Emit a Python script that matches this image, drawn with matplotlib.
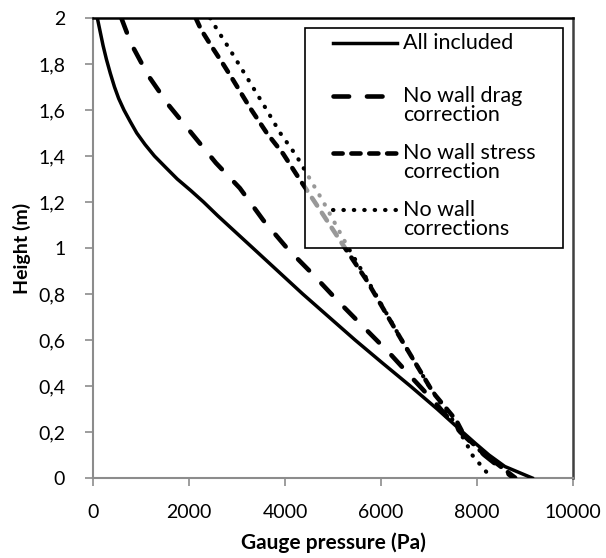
import numpy as np
import matplotlib
matplotlib.use("Agg")
import matplotlib.pyplot as plt
from matplotlib.patches import Rectangle
from matplotlib.lines import Line2D

plt.rcParams['font.family'] = ['Lato', 'DejaVu Sans']

# pressure profiles, height (m) vs gauge pressure (Pa)
h_all = [2.0, 1.94, 1.88, 1.82, 1.76, 1.7, 1.65, 1.6, 1.55, 1.5, 1.45, 1.4, 1.35, 1.3,
         1.25, 1.2, 1.14, 1.0, 0.8, 0.6, 0.5, 0.4, 0.3, 0.2, 0.15, 0.1, 0.05, 0.0]
p_all = [90, 150, 210, 280, 360, 448, 535, 645, 775, 911, 1084, 1280, 1516, 1755,
         2036, 2303, 2600, 3330, 4370, 5460, 6030, 6610, 7170, 7700, 7970, 8250, 8580, 9150]

h_drag = [2.0, 1.89, 1.75, 1.62, 1.5, 1.37, 1.26, 1.12, 1.0, 0.89, 0.77, 0.66, 0.54, 0.43, 0.32, 0.2, 0.1, 0.05, 0.0]
p_drag = [590, 790, 1150, 1580, 2050, 2560, 3060, 3550, 4040, 4560, 5100, 5620, 6190, 6670, 7160, 7650, 8150, 8450, 8760]

h_stress = [2.0, 1.95, 1.88, 1.8, 1.73, 1.61, 1.5, 1.41, 1.3, 1.2, 1.0, 0.86, 0.61, 0.37, 0.25, 0.19, 0.12, 0.0]
p_stress = [2140, 2250, 2460, 2710, 2920, 3270, 3620, 3960, 4300, 4620, 5250, 5700, 6400, 7090, 7570, 7720, 8060, 8800]

h_none = [2.0, 1.945, 1.87, 1.72, 1.6, 1.5, 1.4, 1.3, 1.2, 1.0, 0.86, 0.6, 0.4, 0.25, 0.15, 0.1, 0.05, 0.02]
p_none = [2440, 2600, 2830, 3270, 3620, 3900, 4240, 4520, 4800, 5320, 5720, 6430, 7000, 7500, 7780, 7900, 8100, 8220]

labels = ["All included", "No wall drag\ncorrection", "No wall stress\ncorrection", "No wall\ncorrections"]
x_ticks = [0, 2000, 4000, 6000, 8000, 10000]
y_ticks = [0, 0.2, 0.4, 0.6, 0.8, 1.0, 1.2, 1.4, 1.6, 1.8, 2.0]
y_ticklabels = ["0", "0,2", "0,4", "0,6", "0,8", "1", "1,2", "1,4", "1,6", "1,8", "2"]

styles = [
    dict(color='black', lw=2.5, ls='-'),
    dict(color='black', lw=3.3, dashes=(3.4, 3.9), dash_capstyle='round'),
    dict(color='black', lw=3.3, dashes=(2.0, 1.9), dash_capstyle='round'),
    dict(color='black', lw=3.0, dashes=(0.1, 2.4), dash_capstyle='round'),
]

fig = plt.figure(figsize=(6.06, 5.58), dpi=100)
ax = fig.add_axes([93/606, 1-478/558, 480/606, 460/558])

series = [(p_all, h_all), (p_drag, h_drag), (p_stress, h_stress), (p_none, h_none)]
for (p, h), st in zip(series, styles):
    ax.plot(p, h, zorder=3, **st)

ax.set_xlim(0, 10000)
ax.set_ylim(0, 2)
ax.set_xticks(x_ticks)
ax.set_yticks(y_ticks)
ax.set_yticklabels(y_ticklabels)
ax.tick_params(axis='both', direction='out', length=6, width=1.2, color='#8c8c8c',
               labelsize=14)
ax.tick_params(axis='x', pad=13)
ax.tick_params(axis='y', pad=14)

for side in ['left', 'bottom']:
    ax.spines[side].set_color('#8c8c8c')
    ax.spines[side].set_linewidth(1.5)
ax.spines['top'].set_color('black')
ax.spines['top'].set_linewidth(1.8)
ax.spines['right'].set_color('#404040')
ax.spines['right'].set_linewidth(1.8)

ax.set_xlabel("Gauge pressure (Pa)", fontsize=15, fontweight='bold', labelpad=8)
ax.set_ylabel("Height (m)", fontsize=14, fontweight='bold', labelpad=5)

# legend box: translucent white fill, lines behind it show through grey
x0, x1, y0, y1 = 0.4417, 0.979, 0.5, 0.978
ax.add_patch(Rectangle((x0, y0), x1 - x0, y1 - y0, transform=ax.transAxes,
                       facecolor='white', alpha=0.6, edgecolor='none', zorder=5))
ax.add_patch(Rectangle((x0, y0), x1 - x0, y1 - y0, transform=ax.transAxes,
                       facecolor='none', edgecolor='black', lw=1.2, zorder=6))

entry_y = [0.9457, 0.8304, 0.7065, 0.5826]
line_step = 0.042
for ey, lab, st in zip(entry_y, labels, styles):
    ax.add_line(Line2D([0.5, 0.633], [ey, ey], transform=ax.transAxes, zorder=7, **st))
    for i, part in enumerate(lab.split("\n")):
        ax.text(0.646, ey - i * line_step, part, transform=ax.transAxes,
                fontsize=15.5, va='center', ha='left', zorder=7)

fig.savefig("out.png", dpi=100)
